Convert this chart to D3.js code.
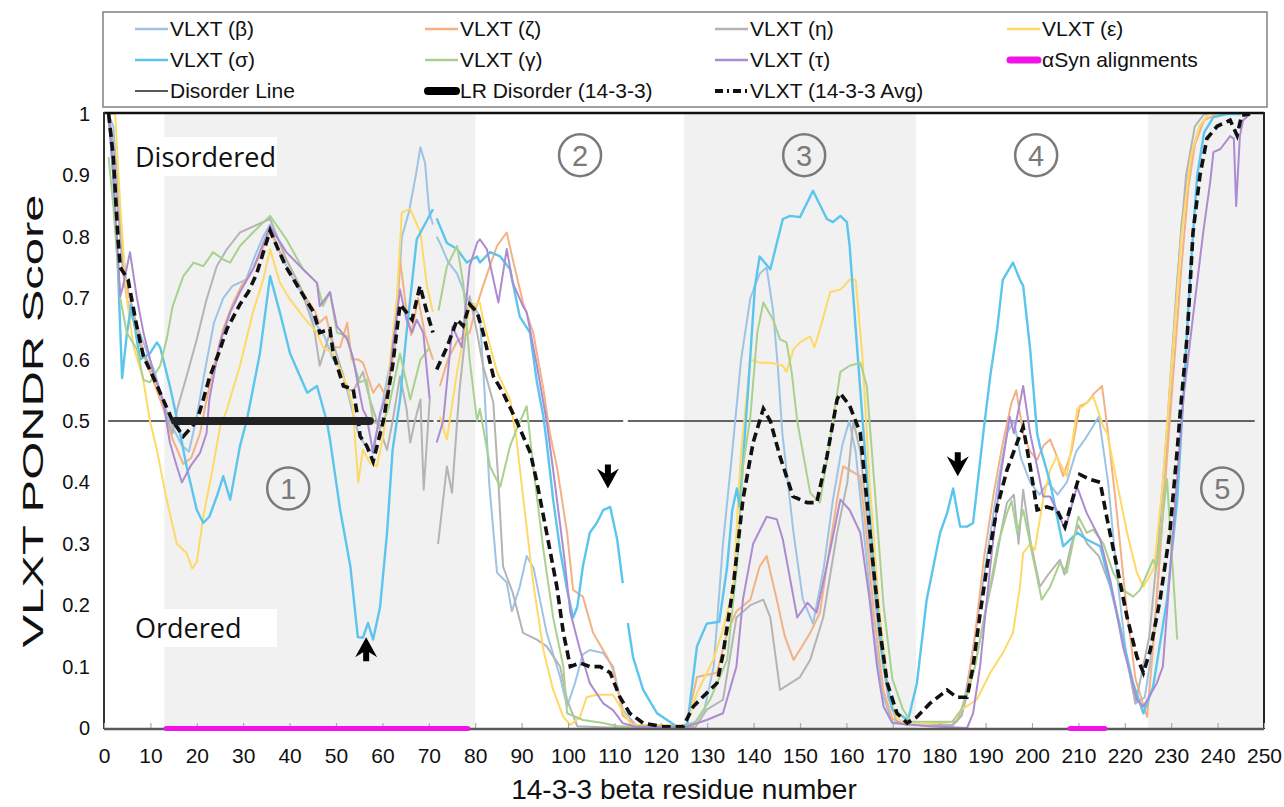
<!DOCTYPE html>
<html lang="en">
<head>
<meta charset="UTF-8">
<title>VLXT PONDR</title>
<script src="https://cdn.jsdelivr.net/npm/d3@7"></script>
<style>
  body { margin: 0; background: #fff; }
  svg { display: block; font-family: "Liberation Sans", Arial, sans-serif; }
</style>
</head>
<body>
<svg id="chart" width="1284" height="807"></svg>
<script>
// residue, score pairs (null = gap in the trace)
const vlxtBeta = [[1,1],[2,0.98],[3,0.88],[4,0.78],[4.9,0.72],[6.9,0.66],[8.9,0.62],[10.9,0.58],[12.8,0.53],[14.8,0.49],[16.8,0.46],[18.3,0.45],[19.8,0.5],[21.7,0.58],[23.7,0.66],[25.7,0.7],[27.7,0.72],[30.6,0.73],[32.6,0.77],[34.3,0.8],[35.8,0.82],[37.5,0.78],[39.5,0.75],[41.5,0.72],[43.5,0.7],[45.4,0.66],[47.4,0.64],[49.4,0.6],[51.4,0.58],[53.4,0.52],[54.8,0.48],[56.3,0.46],[57.8,0.45],[59.3,0.5],[61.3,0.58],[62.7,0.62],[64.2,0.8],[65.7,0.84],[67.2,0.9],[68.2,0.946],[69.2,0.92],[70.1,0.84],[70.9,0.82],null,[71.7,0.8],[72.4,0.79],[74.1,0.76],[76.1,0.74],[78.1,0.7],[79.5,0.69],[81,0.67],[82,0.55],[83,0.4],[84.7,0.253],[86.8,0.237],[87.9,0.19],[89.6,0.23],[91.1,0.28],[92.6,0.26],[95.4,0.155],[98.3,0.083],[99.8,0.035],[101.5,0.073],[103.2,0.12],[104.7,0.127],[107.6,0.122],[109.7,0.1],[111.8,0.03],[114.6,0.005],[124.5,0.003],[127.5,0.01],[129.4,0.03],[131.4,0.1],[133.4,0.3],[135.4,0.45],[137.3,0.6],[139.3,0.7],[141.3,0.74],[142.8,0.75],[144.2,0.68],[145.2,0.59],[146.2,0.48],[148.6,0.318],[150.6,0.21],[152.8,0.17],[155.1,0.26],[157.1,0.372],[159.1,0.46],[160.6,0.5],[162,0.45],[164,0.3],[166,0.15],[168,0.05],[169.9,0.01],[172.9,0.005],[182.8,0.003],[184.8,0.02],[186.7,0.1],[188.7,0.2],[190.7,0.3],[192.7,0.4],[194.6,0.48],[196.1,0.5],[197.6,0.44],[199.6,0.4],[201.6,0.38],[203.5,0.4],[205.5,0.38],[207.5,0.4],[209.5,0.45],[211.4,0.47],[214.4,0.507],[216.4,0.4],[218.3,0.25],[220.3,0.12],[222.3,0.04],[224.3,0.05],[226.3,0.15],[228.2,0.35],[230.2,0.6],[232.2,0.82],[234.2,0.93],[236.1,0.98],[238.1,1],[245,1]];

const vlxtZeta = [[1,1],[2,0.95],[3,0.85],[4,0.76],[4.9,0.72],[6.9,0.66],[8.9,0.6],[10.9,0.56],[12.8,0.52],[14.8,0.47],[17.1,0.43],[18.8,0.44],[20.7,0.48],[21.7,0.52],[23.7,0.59],[25.7,0.65],[27.7,0.69],[29.6,0.72],[31.6,0.74],[33.6,0.77],[35.8,0.81],[37.5,0.78],[39.5,0.76],[41.5,0.73],[43.5,0.7],[45.4,0.68],[46.4,0.66],[47.9,0.67],[49.4,0.62],[50.9,0.62],[52.4,0.66],[53.4,0.6],[54.8,0.6],[55.8,0.595],[58,0.546],[59.3,0.56],[60.8,0.54],[62.2,0.6],[63.8,0.763],[65.2,0.68],[66.2,0.64],[67.7,0.7],[69.2,0.64],[70.9,0.6],null,[72.4,0.557],[74.1,0.6],[76.1,0.63],[78.8,0.644],[80,0.68],[81.7,0.72],[83.5,0.76],[84.7,0.785],[86.8,0.807],[88.1,0.763],[90.3,0.693],[92.5,0.644],[94.7,0.552],[96.1,0.48],[97.6,0.426],[99.8,0.318],[101.1,0.225],[103.2,0.214],[105.4,0.155],[108.4,0.116],[109.7,0.095],[111.2,0.046],[111.8,0.02],[114.6,0.005],[125.5,0.005],[127.8,0.083],[132.1,0.09],[134.3,0.155],[136.3,0.19],[139.3,0.209],[141.3,0.263],[142.8,0.28],[145,0.209],[146.7,0.15],[148.6,0.111],[150.2,0.13],[152.2,0.155],[154.3,0.188],[156.1,0.28],[158,0.372],[159.3,0.426],[160.7,0.42],[163,0.41],[164.5,0.3],[166,0.18],[168,0.06],[169.9,0.015],[172.9,0.005],[183.8,0.01],[185.7,0.05],[187.7,0.15],[189.7,0.28],[191.7,0.38],[193.6,0.46],[195.6,0.53],[196.6,0.55],[198.1,0.48],[199.6,0.45],[201.1,0.437],[202.5,0.46],[203.9,0.47],[205.5,0.44],[206.7,0.41],[208.5,0.45],[210.3,0.524],[211.9,0.53],[213.4,0.545],[215.1,0.557],[216.4,0.48],[218.3,0.35],[220.3,0.2],[222.3,0.08],[224.8,0.018],[226.3,0.15],[228.2,0.35],[230.2,0.55],[232.2,0.75],[233.7,0.88],[235.1,0.95],[237.1,0.99],[240.1,1],[245,1]];

const vlxtEta = [[1,1],[2,0.95],[3,0.85],[4,0.75],[4.9,0.7],[6.4,0.66],[7.9,0.62],[9.9,0.59],[11.9,0.55],[13.8,0.5],[14.8,0.48],[15.8,0.52],[17.8,0.573],[20,0.633],[22.1,0.698],[24.3,0.752],[26.5,0.78],[29.3,0.807],[32.2,0.817],[35.8,0.829],[39.3,0.763],[42.2,0.72],[45.2,0.654],[46.5,0.59],[48.7,0.644],[50.9,0.59],[52.4,0.55],[53.8,0.55],[55.8,0.58],[57.3,0.535],[58.8,0.5],[61,0.453],[62.2,0.5],[63.8,0.573],[65.2,0.52],[66,0.465],[67,0.5],[68.2,0.535],[68.9,0.388],[70.2,0.535],null,[72,0.3],[73.9,0.426],[75,0.383],[76.6,0.55],[78.8,0.703],[80.4,0.644],[81.7,0.59],[83.9,0.53],[85,0.4],[86,0.263],[88.1,0.22],[90.3,0.155],[93.3,0.144],[95.4,0.133],[98.3,0.1],[99.8,0.046],[102,0.003],[108.7,0.001],[127.5,0.002],[129.9,0.03],[133.4,0.046],[136.3,0.18],[139.3,0.2],[142.1,0.209],[143.6,0.18],[145.7,0.062],[150,0.083],[152.2,0.111],[155,0.18],[158,0.318],[160.2,0.4],[161.5,0.5],[163,0.45],[165,0.3],[167,0.15],[169,0.05],[170.9,0.01],[173.9,0.005],[182.8,0.005],[184.8,0.02],[187.7,0.1],[189.7,0.18],[191.7,0.25],[193.6,0.33],[194.6,0.367],[196.1,0.38],[197.1,0.3],[198.1,0.388],[199.6,0.307],[201.7,0.23],[203.5,0.25],[206,0.274],[207,0.25],[208.5,0.3],[210,0.33],[211.9,0.3],[214.4,0.28],[217.4,0.22],[220.3,0.12],[222.3,0.04],[225.3,0.15],[227.2,0.3],[229.2,0.5],[231.2,0.72],[233.2,0.9],[235.1,0.98],[237.1,1],[245,1]];

const vlxtEpsilon = [[1,1],[2.4,1],[3.5,0.85],[4.9,0.7],[6.4,0.62],[8.4,0.57],[9.9,0.5],[11.4,0.453],[13.5,0.372],[15.7,0.3],[17.8,0.285],[19,0.26],[20,0.27],[21.4,0.344],[23.5,0.426],[25,0.49],[26.5,0.519],[29.3,0.59],[32.1,0.677],[34.3,0.73],[35.8,0.78],[37.9,0.725],[40.1,0.698],[42.9,0.67],[45.9,0.644],[47.2,0.62],[49.4,0.61],[52.4,0.557],[53.6,0.524],[54.8,0.4],[55.8,0.453],[57.3,0.432],[58.8,0.426],[60.3,0.48],[61.7,0.6],[63.1,0.698],[64.2,0.84],[66,0.845],[68.2,0.807],[69.6,0.72],[70.9,0.677],null,[72.4,0.507],[73.9,0.47],[76.1,0.58],[77.4,0.633],[78.8,0.687],[81,0.693],[81.7,0.665],[84.7,0.58],[87.5,0.535],[88.9,0.47],[90.4,0.372],[92.5,0.236],[94.7,0.127],[96.8,0.062],[99,0.018],[100.5,0.005],[102.6,0.018],[104,0.05],[106.2,0.054],[109.7,0.054],[111.6,0.03],[113.6,0.005],[125.5,0.005],[127.8,0.057],[131.3,0.111],[133.4,0.16],[135.6,0.225],[137.3,0.45],[139.3,0.6],[141.3,0.595],[143.6,0.595],[146.3,0.59],[147.1,0.58],[148.6,0.617],[150,0.628],[152.2,0.638],[153.1,0.62],[154.3,0.649],[156.5,0.71],[158.7,0.714],[160.7,0.73],[162,0.73],[163.5,0.6],[165,0.4],[167,0.2],[169,0.06],[170.9,0.015],[173.9,0.005],[182.8,0.01],[184.8,0.03],[188.1,0.046],[191,0.09],[193.7,0.122],[195.9,0.155],[197.4,0.23],[198.1,0.285],[199.6,0.3],[200.6,0.29],[202.4,0.372],[203.9,0.42],[205.3,0.442],[207.5,0.41],[209.8,0.52],[211,0.524],[213.2,0.54],[215.4,0.49],[216.2,0.48],[218.3,0.4],[220.5,0.318],[222.6,0.253],[224,0.23],[226.3,0.26],[228.2,0.4],[230.2,0.6],[232.2,0.8],[234.2,0.93],[236.1,0.98],[238.1,1],[245,1]];

const vlxtGamma = [[1,0.93],[2,0.85],[3.5,0.7],[4.9,0.644],[7.1,0.617],[8.5,0.567],[9.9,0.563],[12.1,0.59],[13.5,0.633],[14.8,0.687],[17.1,0.736],[19.3,0.758],[21.4,0.752],[23.5,0.775],[25.7,0.763],[27.2,0.758],[29.3,0.785],[32.1,0.807],[35.8,0.834],[39.3,0.796],[42.9,0.747],[45.9,0.725],[47.2,0.687],[48.7,0.71],[50.2,0.644],[52.4,0.638],[53.6,0.6],[55.1,0.563],[56.6,0.567],[58,0.5],[59.8,0.49],[61.3,0.52],[63.8,0.61],[66,0.535],[68.2,0.6],[70.2,0.62],null,[72.1,0.68],[73.9,0.752],[76.1,0.785],[77.4,0.725],[78.8,0.6],[80.4,0.5],[81,0.52],[83.2,0.426],[85.4,0.393],[87.5,0.459],[88.9,0.486],[91.1,0.524],[92.5,0.426],[94.7,0.29],[96.8,0.18],[99,0.1],[99.8,0.024],[103.2,0.013],[107.6,0.008],[110.7,0.003],[125.5,0.003],[127.5,0.01],[130.6,0.046],[134.3,0.111],[136.4,0.263],[137.7,0.426],[139.3,0.507],[140.8,0.644],[142.1,0.693],[144.2,0.665],[145.7,0.633],[147.1,0.628],[148.2,0.58],[149.4,0.5],[152.2,0.383],[154.3,0.367],[156.1,0.45],[158.7,0.58],[160.7,0.59],[163,0.595],[164.4,0.557],[166,0.4],[168,0.2],[169.9,0.08],[172.2,0.03],[173.9,0.01],[182.8,0.01],[184.8,0.03],[187.7,0.1],[190.7,0.22],[192.7,0.3],[194.6,0.35],[195.6,0.37],[196.8,0.318],[198.1,0.355],[199.6,0.3],[202.1,0.209],[203.9,0.23],[206,0.269],[207.5,0.253],[210,0.344],[211.8,0.318],[213.2,0.323],[215.4,0.3],[217.5,0.253],[219.6,0.225],[221.8,0.214],[223.3,0.225],[226.1,0.274],[226.9,0.263],[229.1,0.405],[231.3,0.144]];

const vlxtTau = [[1,1],[2,0.9],[3.5,0.703],[4.1,0.72],[5.6,0.775],[7.1,0.7],[8.5,0.644],[10.6,0.58],[12.7,0.535],[14.2,0.465],[15.7,0.426],[16.8,0.4],[18.6,0.426],[20.7,0.448],[22.1,0.48],[22.7,0.535],[25,0.628],[27.2,0.677],[29.3,0.71],[32.1,0.747],[35.8,0.817],[39.3,0.775],[42.9,0.747],[45.9,0.725],[46.5,0.687],[48.7,0.71],[50.2,0.654],[52.4,0.633],[53.6,0.605],[55.1,0.546],[55.8,0.519],[56.6,0.507],[58,0.448],[59.5,0.513],[61.3,0.55],[62.2,0.62],[63.8,0.714],[65.2,0.665],[66.4,0.644],[67.4,0.665],[68.8,0.644],[70.2,0.535],null,[71.7,0.465],[73.1,0.5],[75.1,0.654],[77.1,0.62],[78.8,0.752],[80.4,0.79],[81,0.796],[82.5,0.78],[85,0.693],[86.8,0.78],[88.1,0.725],[90.3,0.687],[91.1,0.677],[93.3,0.59],[95.4,0.5],[96.8,0.42],[99,0.29],[100.5,0.188],[102.6,0.127],[104.7,0.073],[107.6,0.04],[109.7,0.029],[111.8,0.008],[114.6,0.002],[125.5,0.002],[129.9,0.013],[133.4,0.024],[136.3,0.1],[137.7,0.209],[139.9,0.3],[142.8,0.344],[145,0.34],[146.3,0.307],[149.4,0.18],[151.6,0.204],[153.6,0.188],[156.5,0.29],[158.7,0.372],[160.7,0.355],[163,0.318],[165,0.209],[166.6,0.1],[168,0.035],[169.9,0.008],[177.8,0.003],[186,0],[187.3,0.024],[188.8,0.1],[191,0.263],[193.2,0.41],[195.2,0.507],[196.1,0.48],[198.1,0.557],[199.6,0.48],[201.1,0.426],[202.4,0.377],[203.9,0.377],[206,0.344],[207.1,0.323],[209.7,0.393],[211.8,0.35],[214.7,0.307],[216.9,0.24],[219.6,0.133],[222.6,0.046],[224,0.035],[226.9,0.073],[228.2,0.1],[230.2,0.3],[232.6,0.535],[234.7,0.67],[236.9,0.807],[238.4,0.889],[239.1,0.938],[240.6,0.943],[242.7,0.964],[243.5,0.96],[244,0.85],[244.8,0.964],[245.5,0.99],[247,1]];

const vlxtSigma = [[1,1],[2,0.9],[3,0.75],[3.9,0.57],[4.9,0.64],[5.9,0.69],[6.9,0.64],[7.8,0.6],[9.9,0.61],[11.4,0.628],[12.1,0.62],[14.2,0.557],[16.4,0.48],[17.8,0.426],[20,0.355],[21.4,0.334],[22.7,0.344],[24.3,0.377],[25.7,0.41],[27.2,0.372],[29.3,0.459],[30.8,0.502],[33.6,0.61],[35.8,0.736],[37.9,0.677],[40.1,0.61],[43.8,0.546],[45.9,0.557],[48,0.5],[48.7,0.47],[50.9,0.355],[53.1,0.263],[54.7,0.148],[55.8,0.147],[56.9,0.171],[58,0.144],[59.5,0.197],[61,0.318],[62.2,0.453],[63.8,0.535],[65.2,0.644],[67.4,0.796],[68.2,0.807],[70.9,0.845],null,[71.7,0.83],[73.9,0.79],[76.1,0.78],[78.2,0.758],[80.4,0.768],[81,0.758],[83.2,0.775],[85.4,0.768],[87.5,0.747],[89.6,0.67],[91.8,0.644],[93.3,0.563],[94.7,0.507],[95.4,0.465],[96.8,0.372],[98.3,0.29],[99.8,0.225],[101.1,0.18],[102,0.197],[103.2,0.263],[104.7,0.318],[106.2,0.334],[107.6,0.355],[109.1,0.36],[110.6,0.307],[111.8,0.236],null,[112.9,0.171],[114,0.116],[116.2,0.062],[119.2,0.024],[123.5,0.002],[125.7,0.005],[127.8,0.133],[129.9,0.17],[132.6,0.173],[134.3,0.263],[135.4,0.355],[136.4,0.39],[137,0.36],[138.8,0.55],[140.3,0.72],[141.3,0.768],[143.6,0.747],[146.3,0.829],[147.9,0.834],[150,0.832],[152.8,0.875],[155.8,0.829],[157.1,0.824],[158.7,0.834],[160.1,0.824],[160.7,0.785],[162,0.65],[164,0.45],[166,0.25],[168,0.1],[169.9,0.03],[173.3,0.013],[175.2,0.073],[177.3,0.209],[180.2,0.318],[181.7,0.35],[183,0.39],[184.5,0.328],[186,0.328],[187.3,0.334],[189.5,0.48],[191,0.573],[192.5,0.65],[193.7,0.73],[195.9,0.758],[197.4,0.73],[198.1,0.72],[199.6,0.617],[201.1,0.48],[201.7,0.459],[203.9,0.4],[206.7,0.296],[209.8,0.318],[211.8,0.307],[214.7,0.296],[216.9,0.23],[219.6,0.144],[221.8,0.073],[224,0.024],[226.1,0.067],[229.1,0.209],[231.3,0.372],[232.7,0.55],[234.2,0.75],[235.6,0.9],[237.1,0.97],[239.1,0.995],[242,1],[245,1]];

const vlxtAvg = [[1,1],[2,0.93],[3,0.8],[3.5,0.75],[5.2,0.73],[6.9,0.66],[8.5,0.605],[10.4,0.575],[12.1,0.546],[14.8,0.5],[17.1,0.475],[20,0.5],[21.2,0.53],[22.7,0.57],[24.7,0.61],[26.5,0.65],[29.3,0.69],[31.1,0.71],[32.9,0.74],[35.8,0.81],[37.5,0.78],[39.3,0.75],[42.2,0.714],[45.2,0.677],[46.5,0.644],[48.7,0.65],[49.4,0.61],[51.6,0.557],[53.7,0.552],[54.8,0.5],[55.2,0.475],[56.6,0.46],[58,0.434],[60.2,0.5],[62.2,0.59],[63.8,0.69],[65.2,0.677],[66.4,0.665],[68.1,0.72],[69.6,0.677],[70.9,0.644],null,[71.7,0.584],[73.9,0.62],[76.1,0.665],[77.4,0.655],[78.8,0.69],[80.4,0.677],[81.7,0.644],[83.9,0.573],[86,0.546],[88.9,0.5],[91.9,0.448],[93.3,0.4],[95.4,0.318],[97.6,0.23],[99,0.155],[100.5,0.1],[102.6,0.106],[104.7,0.1],[106.9,0.1],[109.1,0.09],[111.2,0.05],[113.3,0.024],[116.2,0.008],[120.5,0.002],[124.8,0.002],[127,0.035],[129.9,0.057],[132.1,0.073],[133.4,0.12],[135.6,0.23],[137.7,0.372],[139.9,0.465],[142.1,0.52],[143.6,0.5],[145.7,0.442],[148.5,0.377],[151.6,0.367],[153.6,0.367],[155.8,0.442],[158,0.535],[158.7,0.545],[160.7,0.525],[163,0.48],[164.4,0.372],[165.8,0.263],[167.3,0.155],[168.8,0.073],[170.9,0.024],[173.1,0.008],[175.2,0.018],[178,0.04],[181.7,0.062],[183.8,0.05],[186,0.05],[187.3,0.1],[188.7,0.18],[190.3,0.263],[192.5,0.36],[194.6,0.42],[196.8,0.465],[198.1,0.49],[199.6,0.426],[201.1,0.355],[203.2,0.36],[205.4,0.355],[207.1,0.328],[208.9,0.377],[210.3,0.413],[212.5,0.405],[214.7,0.4],[216.2,0.34],[218.3,0.263],[220.5,0.18],[222.6,0.116],[224,0.09],[225.5,0.127],[227.6,0.209],[229.7,0.318],[231.3,0.453],[231.9,0.51],[233.5,0.644],[234.7,0.807],[236.2,0.9],[237.7,0.96],[239.9,0.98],[242.7,0.99],[244.2,0.965],[245.2,0.998],[247,1]];

const shadedRegions = [[13, 80], [125, 175], [225, 250]];
const disorderSegments = [[0.9, 71], [71.8, 111.9], [112.9, 248]];
const disorderThreshold = 0.5;
const lrDisorder = [15.3, 57.3];
const asynAlignments = [[13.4, 78.4], [208.2, 215.7]];
const regionLabels = [
  {n: "1", x: 39.7, y: 0.39}, {n: "2", x: 102.6, y: 0.933}, {n: "3", x: 150.9, y: 0.933},
  {n: "4", x: 200.9, y: 0.933}, {n: "5", x: 241, y: 0.39}
];
const arrowMarks = [{x: 56.5, y: 0.13, dir: "up"}, {x: 108.6, y: 0.39, dir: "down"}, {x: 184, y: 0.41, dir: "down"}];
const xTicks = d3.range(0, 251, 10);
const yTicks = d3.range(0, 11).map(d => d / 10);

const series = [
  {name: "VLXT (β)", data: vlxtBeta, color: "#9dc3e6", w: 2},
  {name: "VLXT (ζ)", data: vlxtZeta, color: "#f4b183", w: 2},
  {name: "VLXT (η)", data: vlxtEta, color: "#b4b4b4", w: 2},
  {name: "VLXT (ε)", data: vlxtEpsilon, color: "#ffd966", w: 2},
  {name: "VLXT (σ)", data: vlxtSigma, color: "#5bc5ee", w: 2.4},
  {name: "VLXT (γ)", data: vlxtGamma, color: "#a9d18e", w: 2},
  {name: "VLXT (τ)", data: vlxtTau, color: "#ad8bd1", w: 2}
];

const svg = d3.select("#chart");
const x = d3.scaleLinear().domain([0, 250]).range([104, 1264]);
const y = d3.scaleLinear().domain([0, 1]).range([728, 114]);

// shaded bands
svg.append("g").selectAll("rect")
  .data(shadedRegions).enter().append("rect")
  .attr("x", d => x(d[0])).attr("width", d => x(d[1]) - x(d[0]))
  .attr("y", y(1)).attr("height", y(0) - y(1))
  .attr("fill", "#f1f1f1");

// disorder line
svg.append("g").selectAll("line")
  .data(disorderSegments).enter().append("line")
  .attr("x1", d => x(d[0])).attr("x2", d => x(d[1]))
  .attr("y1", y(disorderThreshold)).attr("y2", y(disorderThreshold))
  .attr("stroke", "#333").attr("stroke-width", 1.5);

const line = d3.line()
  .defined(d => d)
  .x(d => x(d[0]))
  .y(d => y(d[1]));

svg.append("g").selectAll("path")
  .data(series).enter().append("path")
  .attr("d", d => line(d.data))
  .attr("fill", "none")
  .attr("stroke", d => d.color)
  .attr("stroke-width", d => d.w)
  .attr("stroke-linejoin", "round");

svg.append("path")
  .attr("d", line(vlxtAvg))
  .attr("fill", "none")
  .attr("stroke", "#111")
  .attr("stroke-width", 3.6)
  .attr("stroke-dasharray", "9,5");

// LR disorder bar
svg.append("line")
  .attr("x1", x(lrDisorder[0])).attr("x2", x(lrDisorder[1]))
  .attr("y1", y(disorderThreshold)).attr("y2", y(disorderThreshold))
  .attr("stroke", "#222").attr("stroke-width", 8).attr("stroke-linecap", "round");

// frame
svg.append("line").attr("x1", 104).attr("x2", 1264).attr("y1", 113).attr("y2", 113)
  .attr("stroke", "#111").attr("stroke-width", 2.5);
svg.append("line").attr("x1", 104).attr("x2", 104).attr("y1", 112).attr("y2", 729)
  .attr("stroke", "#333").attr("stroke-width", 2);
svg.append("line").attr("x1", 1264).attr("x2", 1264).attr("y1", 112).attr("y2", 729)
  .attr("stroke", "#222").attr("stroke-width", 2);

// axes
const xAxis = svg.append("g")
  .attr("transform", `translate(0,${y(0)})`)
  .call(d3.axisBottom(x).tickValues(xTicks).tickSize(-5).tickPadding(20).tickFormat(d3.format("d")));
xAxis.select(".domain").remove();
xAxis.selectAll(".tick line").attr("stroke", "#aaa").attr("stroke-width", 1.2);
xAxis.selectAll("text").attr("font-size", 21).attr("fill", "#111")
  .attr("font-family", "'Liberation Sans', Arial, sans-serif");
svg.append("line").attr("x1", 104).attr("x2", 1264).attr("y1", y(0) + 1).attr("y2", y(0) + 1)
  .attr("stroke", "#595959").attr("stroke-width", 2.5);

const yAxis = svg.append("g")
  .attr("transform", "translate(104,0)")
  .call(d3.axisLeft(y).tickValues(yTicks).tickSize(0).tickPadding(14)
    .tickFormat(d => d === 0 ? "0" : d === 1 ? "1" : d3.format(".1f")(d)));
yAxis.select(".domain").remove();
yAxis.selectAll("text").attr("font-size", 20).attr("fill", "#111")
  .attr("font-family", "'Liberation Sans', Arial, sans-serif");

// alignment bars
svg.append("g").selectAll("line")
  .data(asynAlignments).enter().append("line")
  .attr("x1", d => x(d[0])).attr("x2", d => x(d[1]))
  .attr("y1", y(0) + 0.5).attr("y2", y(0) + 0.5)
  .attr("stroke", "#f012e8").attr("stroke-width", 5).attr("stroke-linecap", "round");

// region annotations
svg.append("rect").attr("x", 133).attr("y", 137).attr("width", 144).attr("height", 39).attr("fill", "#fff");
svg.append("text").attr("x", 135).attr("y", 167).text("Disordered")
  .attr("font-family", "'Open Sans', sans-serif").attr("font-size", 27).attr("fill", "#111");
svg.append("rect").attr("x", 133).attr("y", 609).attr("width", 144).attr("height", 38).attr("fill", "#fff");
svg.append("text").attr("x", 135).attr("y", 638).text("Ordered")
  .attr("font-family", "'Open Sans', sans-serif").attr("font-size", 27).attr("fill", "#111");

const circ = svg.append("g").selectAll("g")
  .data(regionLabels).enter().append("g")
  .attr("transform", d => `translate(${x(d.x)},${y(d.y)})`);
circ.append("circle").attr("r", 21).attr("fill", "none").attr("stroke", "#7a7a7a").attr("stroke-width", 2.5);
circ.append("text").text(d => d.n)
  .attr("text-anchor", "middle").attr("dy", "0.36em")
  .attr("font-family", "'Liberation Sans', Arial, sans-serif").attr("font-size", 29).attr("fill", "#7a7a7a");

svg.append("g").selectAll("path")
  .data(arrowMarks).enter().append("path")
  .attr("d", "M0,0 L11,20 L3,15 L3,24 L-3,24 L-3,15 L-11,20 Z")
  .attr("transform", d => `translate(${x(d.x)},${d.dir === "up" ? y(d.y) - 11 : y(d.y)}) rotate(${d.dir === "up" ? 0 : 180})`)
  .attr("fill", "#000");

// axis titles
svg.append("text")
  .attr("transform", "translate(43,421) rotate(-90)")
  .attr("text-anchor", "middle")
  .attr("font-size", 30).attr("fill", "#111")
  .attr("textLength", 453).attr("lengthAdjust", "spacingAndGlyphs")
  .text("VLXT PONDR Score");
svg.append("text")
  .attr("x", 684).attr("y", 799)
  .attr("text-anchor", "middle")
  .attr("font-size", 28).attr("fill", "#111")
  .text("14-3-3 beta residue number");

// legend
svg.append("rect").attr("x", 103).attr("y", 12).attr("width", 1164).attr("height", 95)
  .attr("fill", "#fff").attr("stroke", "#808080").attr("stroke-width", 1.5);

const legendItems = [
  {name: "VLXT (β)", color: "#9dc3e6", w: 2.5, col: 0, row: 0},
  {name: "VLXT (ζ)", color: "#f4b183", w: 2.5, col: 1, row: 0},
  {name: "VLXT (η)", color: "#b4b4b4", w: 2.5, col: 2, row: 0},
  {name: "VLXT (ε)", color: "#ffd966", w: 2.5, col: 3, row: 0},
  {name: "VLXT (σ)", color: "#5bc5ee", w: 2.5, col: 0, row: 1},
  {name: "VLXT (γ)", color: "#a9d18e", w: 2.5, col: 1, row: 1},
  {name: "VLXT (τ)", color: "#ad8bd1", w: 2.5, col: 2, row: 1},
  {name: "αSyn alignments", color: "#f012e8", w: 7, col: 3, row: 1, cap: "round"},
  {name: "Disorder Line", color: "#222", w: 1.5, col: 0, row: 2},
  {name: "LR Disorder (14-3-3)", color: "#000", w: 8, col: 1, row: 2, cap: "round"},
  {name: "VLXT (14-3-3 Avg)", color: "#111", w: 4, col: 2, row: 2, dash: "8,4,2,4"}
];
const colX = [135, 425, 715, 1007];
const rowY = [29, 60, 91];

const leg = svg.append("g").selectAll("g")
  .data(legendItems).enter().append("g")
  .attr("transform", d => `translate(${colX[d.col]},${rowY[d.row]})`);
leg.append("line")
  .attr("x1", d => d.cap ? 3 : 0).attr("x2", d => d.cap ? 31 : 33)
  .attr("stroke", d => d.color).attr("stroke-width", d => d.w)
  .attr("stroke-linecap", d => d.cap || "butt")
  .attr("stroke-dasharray", d => d.dash || null);
leg.append("text")
  .attr("x", 35).attr("dy", "0.35em")
  .attr("font-size", 21).attr("fill", "#111")
  .text(d => d.name);
</script>
</body>
</html>
